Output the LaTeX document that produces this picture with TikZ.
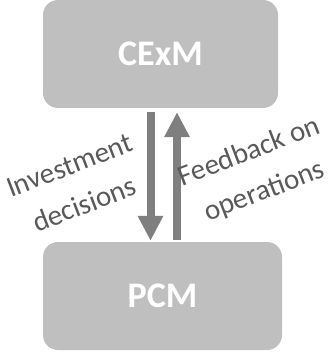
\documentclass[tikz,border=0pt]{standalone}
\usepackage{fontspec}
\setmainfont{Carlito}
\usetikzlibrary{arrows.meta}
\definecolor{boxgray}{HTML}{BFBFBF}
\definecolor{arrowgray}{HTML}{7F7F7F}
\definecolor{labelgray}{HTML}{595959}
\tikzset{model/.style={fill=boxgray, rounded corners=15pt, inner sep=0pt,
    minimum height=108pt, text=white, font=\fontsize{36}{40}\selectfont\bfseries},
  flow/.style={draw=arrowgray, line width=8pt,
    -{Triangle[width=24pt,length=25pt]}},
  flowlabel/.style={text=labelgray, rotate=21, align=center,
    font=\fontsize{29}{42}\selectfont}}

\begin{document}
\begin{tikzpicture}[x=1pt,y=-1pt]
\useasboundingbox (0,0) rectangle (334,363);
\node[model, minimum width=235pt] (cexm) at (160.5,54)  {CExM};
\node[model, minimum width=239pt] (pcm)  at (162.5,296) {PCM};
\draw[flow, shorten <=4pt, shorten >=1pt] ([xshift=-10pt]cexm.south) to ([xshift=-12pt]pcm.north);
\draw[flow, shorten <=2pt, shorten >=4pt] ([xshift=14.5pt]pcm.north) to ([xshift=16.5pt]cexm.south);
\node[flowlabel] (invest) at (77,185)  {Investment\\decisions};
\node[flowlabel] (feed)   at (257,172) {Feedback on\\operations};
\end{tikzpicture}
\end{document}
